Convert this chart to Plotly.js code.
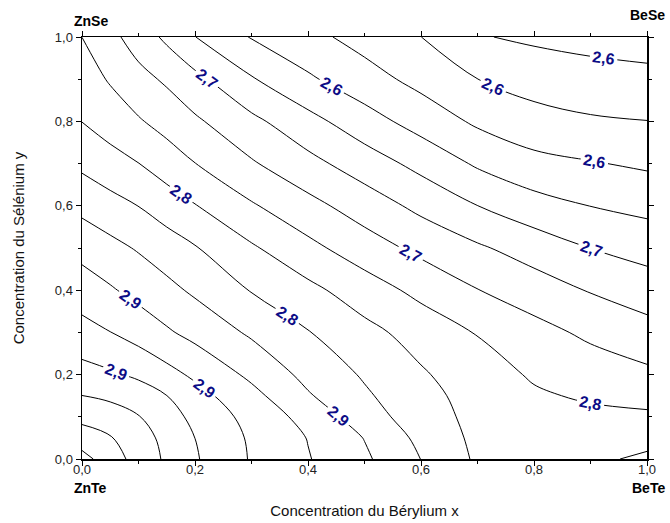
<!DOCTYPE html>
<html>
<head>
<meta charset="utf-8">
<script src="https://cdn.plot.ly/plotly-3.0.1.min.js"></script>
<style>html,body{margin:0;padding:0;background:#fff;}#chart{width:670px;height:523px;}</style>
</head>
<body>
<div id="chart"></div>
<script>
// Beryllium concentration x (columns) and Selenium concentration y (rows)
const xConc = [0, 0.05, 0.1, 0.15, 0.2, 0.3, 0.4, 0.5, 0.6, 0.7, 0.8, 0.9, 1.0];
const yConc = [0, 0.05, 0.1, 0.15, 0.2, 0.3, 0.4, 0.5, 0.6, 0.7, 0.8, 0.9, 1.0];
// Values (one row per y value)
const gapRows = [
  [3.0414, 3.0153, 2.9895, 2.9661, 2.9439, 2.9085, 2.8827, 2.8560, 2.8206, 2.7864, 2.7810, 2.7855, 2.7960],
  [3.0156, 3.0030, 2.9838, 2.9625, 2.9409, 2.9067, 2.8800, 2.8500, 2.8134, 2.7840, 2.7804, 2.7810, 2.7822],
  [2.9925, 2.9856, 2.9724, 2.9529, 2.9337, 2.9010, 2.8707, 2.8350, 2.8050, 2.7825, 2.7780, 2.7681, 2.7660],
  [2.9712, 2.9649, 2.9550, 2.9412, 2.9220, 2.8899, 2.8539, 2.8254, 2.7999, 2.7804, 2.7648, 2.7570, 2.7513],
  [2.9520, 2.9451, 2.9361, 2.9208, 2.9055, 2.8746, 2.8425, 2.8176, 2.7945, 2.7744, 2.7576, 2.7474, 2.7372],
  [2.9214, 2.9115, 2.8986, 2.8848, 2.8719, 2.8464, 2.8224, 2.7996, 2.7792, 2.7594, 2.7411, 2.7249, 2.7117],
  [2.8962, 2.8842, 2.8716, 2.8590, 2.8461, 2.8194, 2.7987, 2.7756, 2.7528, 2.7318, 2.7156, 2.6991, 2.6862],
  [2.8710, 2.8596, 2.8482, 2.8356, 2.8230, 2.7948, 2.7690, 2.7450, 2.7234, 2.7051, 2.6877, 2.6706, 2.6595],
  [2.8428, 2.8314, 2.8206, 2.8062, 2.7924, 2.7642, 2.7402, 2.7168, 2.6934, 2.6712, 2.6526, 2.6406, 2.6328],
  [2.8146, 2.8029, 2.7915, 2.7765, 2.7615, 2.7342, 2.7099, 2.6862, 2.6622, 2.6370, 2.6199, 2.6130, 2.6064],
  [2.7906, 2.7771, 2.7639, 2.7501, 2.7357, 2.7081, 2.6808, 2.6535, 2.6289, 2.6061, 2.5920, 2.5845, 2.5815],
  [2.7750, 2.7582, 2.7405, 2.7264, 2.7090, 2.6736, 2.6454, 2.6229, 2.6019, 2.5812, 2.5686, 2.5629, 2.5593],
  [2.7609, 2.7393, 2.7174, 2.6949, 2.6715, 2.6391, 2.6196, 2.6001, 2.5812, 2.5530, 2.5461, 2.5410, 2.5374]
];
const levelStart = 2.551, levelEnd = 3.031, levelStep = 0.03;
const cornerNames = ['ZnSe', 'BeSe', 'ZnTe', 'BeTe'];
const xTitle = 'Concentration du Bérylium x';
const yTitle = 'Concentration du Sélénium y';

const trace = {
  type: 'contour',
  x: xConc, y: yConc, z: gapRows,
  autocontour: false,
  contours: {
    start: levelStart, end: levelEnd, size: levelStep,
    coloring: 'none', showlabels: true, labelformat: '.1f',
    labelfont: {family: 'Liberation Sans, Arial, sans-serif', size: 16, color: '#0c0c86', weight: 700}
  },
  line: {color: '#000', width: 1, smoothing: 1},
  showscale: false, hoverinfo: 'skip'
};

const axisCommon = {
  range: [0, 1], tick0: 0, dtick: 0.2, tickformat: '.1f',
  ticks: 'outside', ticklen: 5, tickwidth: 1, tickcolor: '#000',
  showline: true, linewidth: 1.5, linecolor: '#000', mirror: 'ticks',
  showgrid: false, zeroline: false,
  minor: {dtick: 0.1, ticks: 'outside', ticklen: 3, tickwidth: 1, tickcolor: '#000', showgrid: false},
  tickfont: {family: 'Liberation Sans, Arial, sans-serif', size: 13, color: '#222'}
};

const cornerFont = {family: 'Liberation Sans, Arial, sans-serif', size: 14, color: '#000', weight: 700};
const layout = {
  width: 670, height: 523,
  margin: {l: 82, r: 23, t: 37, b: 64, pad: 0},
  separators: ',.',
  paper_bgcolor: '#fff', plot_bgcolor: '#fff',
  font: {family: 'Liberation Sans, Arial, sans-serif', size: 13, color: '#000'},
  showlegend: false,
  xaxis: Object.assign({}, axisCommon, {ticklabelstandoff: -7, title: {text: xTitle, font: {size: 15, color: '#111'}, standoff: 29}}),
  yaxis: Object.assign({}, axisCommon, {title: {text: yTitle, font: {size: 15, color: '#111'}, standoff: 26}}),
  annotations: [
    {text: cornerNames[0], xref: 'paper', yref: 'paper', x: -0.018, y: 1.038, xanchor: 'left', yanchor: 'middle', showarrow: false, font: cornerFont},
    {text: cornerNames[1], xref: 'paper', yref: 'paper', x: 1.035, y: 1.052, xanchor: 'right', yanchor: 'middle', showarrow: false, font: cornerFont},
    {text: cornerNames[2], xref: 'paper', yref: 'paper', x: -0.018, y: -0.068, xanchor: 'left', yanchor: 'middle', showarrow: false, font: cornerFont},
    {text: cornerNames[3], xref: 'paper', yref: 'paper', x: 1.035, y: -0.068, xanchor: 'right', yanchor: 'middle', showarrow: false, font: cornerFont}
  ]
};

Plotly.newPlot('chart', [trace], layout, {displayModeBar: false, staticPlot: true});
</script>
</body>
</html>
